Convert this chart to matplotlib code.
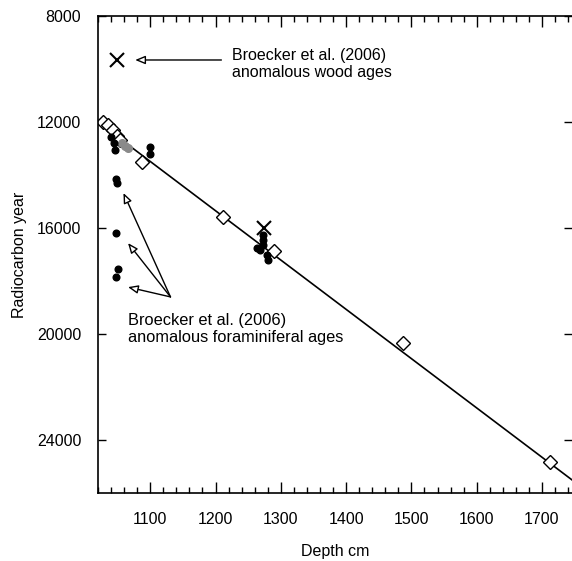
import numpy as np
import matplotlib.pyplot as plt

plt.rcParams['font.family'] = ['Liberation Sans', 'DejaVu Sans']

# open diamonds (accepted ages)
dia_depth = [1028, 1036, 1043, 1049, 1053, 1088, 1212, 1290, 1487, 1712]
dia_age = [12000, 12110, 12300, 12530, 12680, 13510, 15580, 16850, 20340, 24830]

# filled black circles (foraminifera)
fora_depth = [1040, 1044, 1046, 1100, 1100, 1048, 1049, 1048, 1050, 1048,
              1273, 1273, 1273, 1264, 1268, 1279, 1281]
fora_age = [12570, 12800, 13060, 12960, 13200, 14150, 14300, 16190, 17550, 17850,
            16270, 16450, 16640, 16760, 16830, 17020, 17210]

# grey circles
grey_depth = [1056, 1062, 1066]
grey_age = [12790, 12900, 12980]

# crosses (wood)
wood_depth = [1049, 1275]
wood_age = [9660, 16000]

# age-depth line
fit_depth = [1020, 1750]
fit_age = [12000, 25580]

fig = plt.figure(figsize=(5.72, 5.61), dpi=100)
ax = fig.add_axes([98 / 572, 1 - 493 / 561, (572 - 98) / 572, (493 - 16) / 561])

ax.plot(fit_depth, fit_age, color='black', lw=1.2, zorder=1)
ax.plot(dia_depth, dia_age, 'D', mfc='white', mec='black', ms=7, mew=1.0, ls='none', zorder=2)
ax.plot(grey_depth, grey_age, 'o', color='#8a8a8a', ms=5.5, ls='none', zorder=3)
ax.plot(fora_depth, fora_age, 'o', color='black', ms=4.8, ls='none', zorder=4)
ax.plot(wood_depth, wood_age, 'x', color='black', ms=10, mew=1.5, ls='none', zorder=4)

ax.set_xlim(1020, 1746)
ax.set_ylim(26000, 8000)
ax.set_xticks(np.arange(1100, 1701, 100))
ax.set_xticks(np.arange(1020, 1746, 20), minor=True)
ax.set_yticks(np.arange(8000, 24001, 4000))

ax.tick_params(which='both', direction='in', top=True, right=True, labelsize=11.5, color='black')
ax.tick_params(which='major', length=8, width=1)
ax.tick_params(which='minor', length=4, width=1)
ax.tick_params(axis='x', which='major', pad=14)
ax.tick_params(axis='y', which='major', length=6, pad=12)
for s in ['left', 'bottom', 'top']:
    ax.spines[s].set_linewidth(1.2)
ax.spines['right'].set_visible(False)

ax.set_xlabel('Depth cm', fontsize=11.5, labelpad=12)
ax.set_ylabel('Radiocarbon year', fontsize=11.5, labelpad=7)

arrow = dict(arrowstyle='-|>,head_length=0.6,head_width=0.25', fc='white', ec='black', lw=1.0,
             shrinkA=0, shrinkB=0)
ax.annotate('', xy=(1077, 9660), xytext=(1209, 9660), arrowprops=arrow)
ax.text(1226, 9810, 'Broecker et al. (2006)\nanomalous wood ages', fontsize=11.5,
        va='center', ha='left', linespacing=1.2)

for hx, hy in [(1059, 14680), (1066, 16570), (1066, 18230)]:
    ax.annotate('', xy=(hx, hy), xytext=(1131, 18600), arrowprops=arrow)
ax.text(1066, 19820, 'Broecker et al. (2006)\nanomalous foraminiferal ages', fontsize=11.8,
        va='center', ha='left', linespacing=1.2)

fig.savefig('out.png', dpi=100)
